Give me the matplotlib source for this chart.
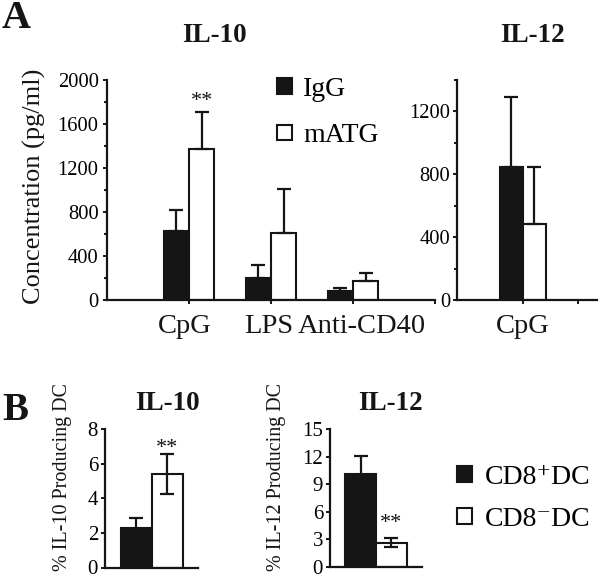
import matplotlib
matplotlib.use("Agg")
import matplotlib.pyplot as plt
import matplotlib.transforms as mtransforms
from matplotlib.patches import Patch
import numpy as np

plt.rcParams['font.family'] = ['Liberation Serif', 'DejaVu Serif']
plt.rcParams['mathtext.fontset'] = 'stix'

# ---------------- data ----------------
a_categories = ["CpG", "LPS", "Anti-CD40"]
a_il10_igg = [630, 203, 85]
a_il10_igg_err = [188, 115, 21]
a_il10_matg = [1373, 606, 176]
a_il10_matg_err = [339, 400, 66]

a_il12_categories = ["CpG"]
a_il12_igg = [845]
a_il12_igg_err = [450]
a_il12_matg = [486]
a_il12_matg_err = [359]

b_il10_values = [2.28, 5.4]
b_il10_err = [0.58, 1.13]
b_il12_values = [10.1, 2.65]
b_il12_err = [1.95, 0.45]

W, H = 600, 579
DARK = '#151515'

fig = plt.figure(figsize=(W / 100, H / 100), dpi=100)


def rect(l, t, r, b):
    return [l / W, 1 - b / H, (r - l) / W, (b - t) / H]


def fx(x):
    return x / W


def fy(y):
    return 1 - y / H


def style_axes(ax, lw=1.6):
    for s in ['top', 'right']:
        ax.spines[s].set_visible(False)
    for s in ['left', 'bottom']:
        ax.spines[s].set_linewidth(lw)
        ax.spines[s].set_color(DARK)
    ax.tick_params(which='both', direction='out', width=1.4, color=DARK)
    ax.tick_params(which='major', length=3)
    ax.tick_params(which='minor', length=2.5)


err_kw = dict(ecolor=DARK, elinewidth=1.6, capsize=5, capthick=1.6)

# ---------------- Panel A: IL-10 ----------------
ax1 = fig.add_axes(rect(107, 80, 435, 300))
x = np.arange(1, len(a_categories) + 1)
bw = 0.31
ax1.bar(x - bw / 2, a_il10_igg, bw, color=DARK, edgecolor=DARK, linewidth=1.5,
        yerr=[np.zeros(len(x)), a_il10_igg_err], error_kw=err_kw, label='IgG')
ax1.bar(x + bw / 2, a_il10_matg, bw, color='white', edgecolor=DARK, linewidth=1.5,
        yerr=[np.zeros(len(x)), a_il10_matg_err], error_kw=err_kw, label='mATG')
ax1.set_xlim(0, 4)
ax1.set_ylim(0, 2000)
ax1.set_yticks(np.arange(0, 2001, 400))
ax1.set_yticks(np.arange(200, 2000, 400), minor=True)
ax1.set_xticks(list(x) + [4])
ax1.set_xticklabels([''] * (len(x) + 1))
style_axes(ax1)
ax1.tick_params(axis='y', labelsize=14.8, pad=3)
# category labels (slightly offset as in the original figure)
label_dx = [-0.05, -0.03, 0.11]
trans1 = mtransforms.blended_transform_factory(ax1.transData, ax1.transAxes)
for xi, lab, dx in zip(x, a_categories, label_dx):
    ax1.text(xi + dx, -33 / 220, lab, transform=trans1, ha='center', va='baseline',
             fontsize=20.5, color=DARK)
ax1.text(x[0] + bw / 2, 1715, '**', ha='center', va='bottom', fontsize=16, color=DARK)
ax1.legend(loc='upper left', bbox_to_anchor=(fx(277), fy(77)),
           bbox_transform=fig.transFigure, frameon=False, fontsize=20,
           handlelength=0.55, handleheight=0.48, handletextpad=0.4,
           labelspacing=0.77, borderpad=0, borderaxespad=0)

# ---------------- Panel A: IL-12 ----------------
ax2 = fig.add_axes(rect(457, 80, 597, 300))
x2 = np.arange(1, len(a_il12_categories) + 1)
bw2 = 0.42
ax2.bar(x2 - bw2 / 2, a_il12_igg, bw2, color=DARK, edgecolor=DARK, linewidth=1.5,
        yerr=[np.zeros(len(x2)), a_il12_igg_err], error_kw=err_kw)
ax2.bar(x2 + bw2 / 2, a_il12_matg, bw2, color='white', edgecolor=DARK, linewidth=1.5,
        yerr=[np.zeros(len(x2)), a_il12_matg_err], error_kw=err_kw)
ax2.set_xlim(-0.2, 2.35)
ax2.set_ylim(0, 1400)
ax2.set_yticks(np.arange(0, 1201, 400))
ax2.set_yticks(np.arange(200, 1401, 400), minor=True)
ax2.set_xticks(list(x2) + [2])
ax2.set_xticklabels([''] * (len(x2) + 1))
style_axes(ax2)
ax2.tick_params(axis='y', labelsize=14.8, pad=2)
trans2 = mtransforms.blended_transform_factory(ax2.transData, ax2.transAxes)
for xi, lab in zip(x2, a_il12_categories):
    ax2.text(xi, -33 / 220, lab, transform=trans2, ha='center', va='baseline',
             fontsize=20.5, color=DARK)

# ---------------- Panel B: IL-10 ----------------
xb = np.arange(2)
ax3 = fig.add_axes(rect(105, 429, 198, 567.5))
ax3.bar(xb, b_il10_values, 1.0, color=[DARK, 'white'], edgecolor=DARK, linewidth=1.5,
        yerr=b_il10_err, error_kw=err_kw)
ax3.set_xlim(-1, 2)
ax3.set_ylim(0, 8)
ax3.set_yticks(np.arange(0, 9, 2))
ax3.set_xticks([])
style_axes(ax3)
ax3.tick_params(axis='y', labelsize=15, pad=2)
ax3.text(1, 6.35, '**', ha='center', va='bottom', fontsize=16, color=DARK)

# ---------------- Panel B: IL-12 ----------------
ax4 = fig.add_axes(rect(330, 429, 422, 567))
ax4.bar(xb, b_il12_values, 1.0, color=[DARK, 'white'], edgecolor=DARK, linewidth=1.5,
        yerr=b_il12_err, error_kw=err_kw)
ax4.set_xlim(-1, 2)
ax4.set_ylim(0, 15)
ax4.set_yticks(np.arange(0, 16, 3))
ax4.set_xticks([])
style_axes(ax4)
ax4.tick_params(axis='y', labelsize=15, pad=2)
ax4.text(1, 3.65, '**', ha='center', va='bottom', fontsize=16, color=DARK)
ax4.legend(handles=[Patch(facecolor=DARK, edgecolor=DARK, linewidth=1.5, label='CD8\u207aDC'),
                    Patch(facecolor='white', edgecolor=DARK, linewidth=1.5, label='CD8\u207bDC')],
           loc='upper left', bbox_to_anchor=(fx(457), fy(465)),
           bbox_transform=fig.transFigure, frameon=False, fontsize=20,
           handlelength=0.55, handleheight=0.48, handletextpad=0.45,
           labelspacing=0.6, borderpad=0, borderaxespad=0)

# ---------------- texts ----------------
fig.text(fx(2), fy(18), 'A', fontsize=29, fontweight='bold', va='center', ha='left', color=DARK)
fig.text(fx(2), fy(410), 'B', fontsize=28, fontweight='bold', va='center', ha='left', color=DARK)
fig.text(fx(214), fy(36), 'IL-10', fontsize=19.5, fontweight='bold', ha='center', va='center', color=DARK)
fig.text(fx(532), fy(36), 'IL-12', fontsize=19.5, fontweight='bold', ha='center', va='center', color=DARK)
fig.text(fx(167), fy(404), 'IL-10', fontsize=19.5, fontweight='bold', ha='center', va='center', color=DARK)
fig.text(fx(390), fy(404), 'IL-12', fontsize=19.5, fontweight='bold', ha='center', va='center', color=DARK)
fig.text(fx(34), fy(186), 'Concentration (pg/ml)', fontsize=19, rotation=90,
         ha='center', va='center', color=DARK)
fig.text(fx(63), fy(477), '% IL-10 Producing DC', fontsize=14.5, rotation=90,
         ha='center', va='center', color=DARK)
fig.text(fx(277), fy(477), '% IL-12 Producing DC', fontsize=14.5, rotation=90,
         ha='center', va='center', color=DARK)

fig.savefig('out.png', dpi=100)
